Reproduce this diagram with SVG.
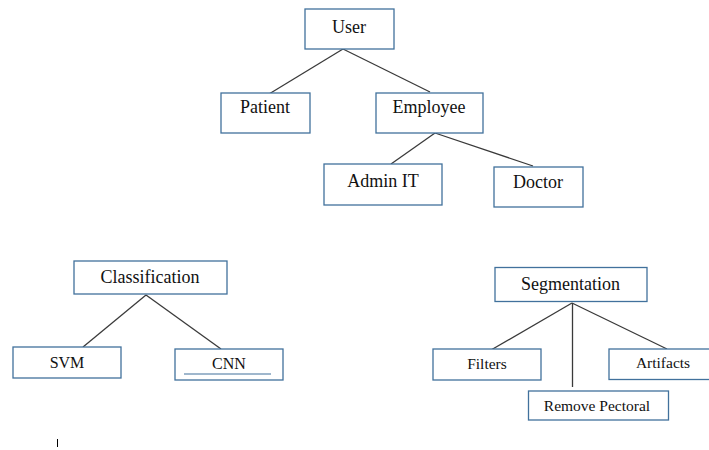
<svg xmlns="http://www.w3.org/2000/svg" width="709" height="450" viewBox="0 0 709 450">
  <style>
    .box { fill: #ffffff; stroke: #41719c; stroke-width: 1.3; }
    .lbl { fill: #111111; text-anchor: middle; }
    .lg { font-size: 18px; }
    .md { font-size: 16px; }
    .sm { font-size: 15.5px; }
    .link { stroke: #3a3a3a; stroke-width: 1.3; fill: none; }
  </style>
  <rect width="709" height="450" fill="#ffffff"/>

  <!-- connectors -->
  <g id="connectors">
    <line class="link" x1="343" y1="49" x2="269" y2="94"/>
    <line class="link" x1="343" y1="49" x2="430" y2="92"/>
    <line class="link" x1="435" y1="133" x2="391" y2="164"/>
    <line class="link" x1="435" y1="133" x2="533" y2="166"/>
    <line class="link" x1="146" y1="295" x2="83" y2="347"/>
    <line class="link" x1="146" y1="295" x2="221" y2="349"/>
    <line class="link" x1="572" y1="303" x2="491" y2="350"/>
    <line class="link" x1="572" y1="303" x2="667" y2="349"/>
    <line class="link" x1="572.5" y1="303" x2="572.5" y2="387"/>
  </g>

  <g font-family="'Liberation Serif', 'Times New Roman', 'DejaVu Serif', serif">
    <!-- user hierarchy -->
    <g id="user">
      <rect class="box" x="305" y="9" width="89" height="40"/>
      <text class="lbl lg" x="349" y="33">User</text>
    </g>
    <g id="patient">
      <rect class="box" x="221" y="93" width="89" height="40"/>
      <text class="lbl lg" x="265" y="113">Patient</text>
    </g>
    <g id="employee">
      <rect class="box" x="376" y="93" width="107" height="40"/>
      <text class="lbl lg" x="429" y="113">Employee</text>
    </g>
    <g id="admin-it">
      <rect class="box" x="324" y="164" width="118" height="41"/>
      <text class="lbl lg" x="383" y="187">Admin IT</text>
    </g>
    <g id="doctor">
      <rect class="box" x="494" y="167" width="89" height="40"/>
      <text class="lbl lg" x="538" y="188">Doctor</text>
    </g>

    <!-- classification -->
    <g id="classification">
      <rect class="box" x="74" y="261" width="153" height="33"/>
      <text class="lbl lg" x="150" y="283">Classification</text>
    </g>
    <g id="svm">
      <rect class="box" x="13" y="347" width="108" height="31"/>
      <text class="lbl md" x="67" y="368">SVM</text>
    </g>
    <g id="cnn">
      <rect class="box" x="175" y="349" width="108" height="31"/>
      <text class="lbl md" x="229" y="369">CNN</text>
      <line x1="184" y1="374" x2="271" y2="374" stroke="#41719c" stroke-width="1.2"/>
    </g>

    <!-- segmentation -->
    <g id="segmentation">
      <rect class="box" x="495" y="267.5" width="152" height="34"/>
      <text class="lbl lg" x="570.5" y="290">Segmentation</text>
    </g>
    <g id="filters">
      <rect class="box" x="433" y="349" width="108" height="31"/>
      <text class="lbl sm" x="487" y="369">Filters</text>
    </g>
    <g id="artifacts">
      <rect class="box" x="609" y="349" width="112" height="30.5"/>
      <text class="lbl sm" x="663" y="368">Artifacts</text>
    </g>
    <g id="remove-pectoral">
      <rect class="box" x="528.5" y="391" width="140" height="29"/>
      <text class="lbl sm" x="597" y="410.5">Remove Pectoral</text>
    </g>
  </g>

  <!-- text cursor mark -->
  <line x1="57.5" y1="439" x2="57.5" y2="447" stroke="#000000" stroke-width="1"/>
</svg>
